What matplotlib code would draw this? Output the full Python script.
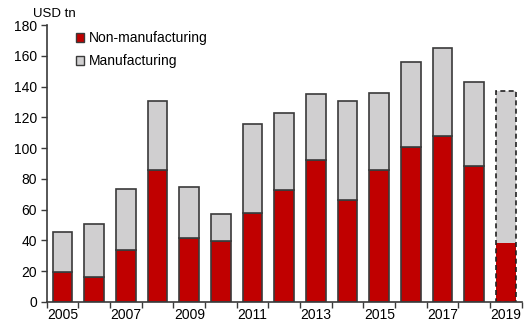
import numpy as np
import matplotlib.pyplot as plt
from matplotlib.patches import Patch

plt.rcParams['font.family'] = ['Liberation Sans', 'DejaVu Sans']

years = list(range(2005, 2020))
non_manufacturing = [19.5, 16, 34, 85.5, 41.5, 39.5, 58, 73, 92, 66, 85.5, 101, 108, 88.5, 38.5]
total = [45.5, 50.5, 73.5, 130.5, 74.5, 57.5, 115.5, 122.5, 135, 130.5, 136, 156, 165, 143, 137]
manufacturing = [t - n for t, n in zip(total, non_manufacturing)]

red = '#C00000'
grey = '#D0CFD0'
edge = '#3a3a3a'

fig = plt.figure(figsize=(5.26, 3.27), dpi=100)
ax = fig.add_axes([0.089, 0.0765, 0.903, 0.847])

x = np.arange(len(years))
w = 0.62

# solid bars for actual years, dashed outline for the last (forecast) year
for i in range(len(years)):
    last = i == len(years) - 1
    ax.bar(x[i], non_manufacturing[i], w, color=red,
           edgecolor='none' if last else edge, linewidth=1.2)
    ax.bar(x[i], manufacturing[i], w, bottom=non_manufacturing[i], color=grey,
           edgecolor='none' if last else edge, linewidth=1.2)
    if last:
        ax.bar(x[i], total[i], w, fill=False, edgecolor='#222222',
               linewidth=1.2, linestyle=(0, (3, 2)))

handles = [Patch(facecolor=red, edgecolor=edge, label='Non-manufacturing'),
           Patch(facecolor=grey, edgecolor=edge, label='Manufacturing')]

ax.set_xlim(-0.5, len(years) - 0.5)
ax.set_ylim(0, 180)
ax.set_yticks(range(0, 181, 20))
ax.set_xticks(x[::2])
ax.set_xticklabels([str(y) for y in years[::2]])
ax.set_xticks(np.arange(-0.5, len(years), 1), minor=True)
ax.tick_params(axis='x', which='major', length=0, labelsize=10, pad=4)
ax.tick_params(axis='x', which='minor', length=4, width=1, color=edge, direction='out')
ax.tick_params(axis='y', length=4, width=1, color=edge, labelsize=10, pad=3)

for s in ['top', 'right']:
    ax.spines[s].set_visible(False)
for s in ['left', 'bottom']:
    ax.spines[s].set_color(edge)
    ax.spines[s].set_linewidth(1.2)

fig.text(0.062, 0.975, 'USD tn', fontsize=9.5, ha='left', va='top')

ax.legend(handles=handles, loc='upper left', bbox_to_anchor=(0.05, 0.998), frameon=False,
          fontsize=10, handlelength=0.6, handleheight=0.6, handletextpad=0.3,
          labelspacing=0.65, borderaxespad=0)

fig.savefig('out.png', dpi=100)
